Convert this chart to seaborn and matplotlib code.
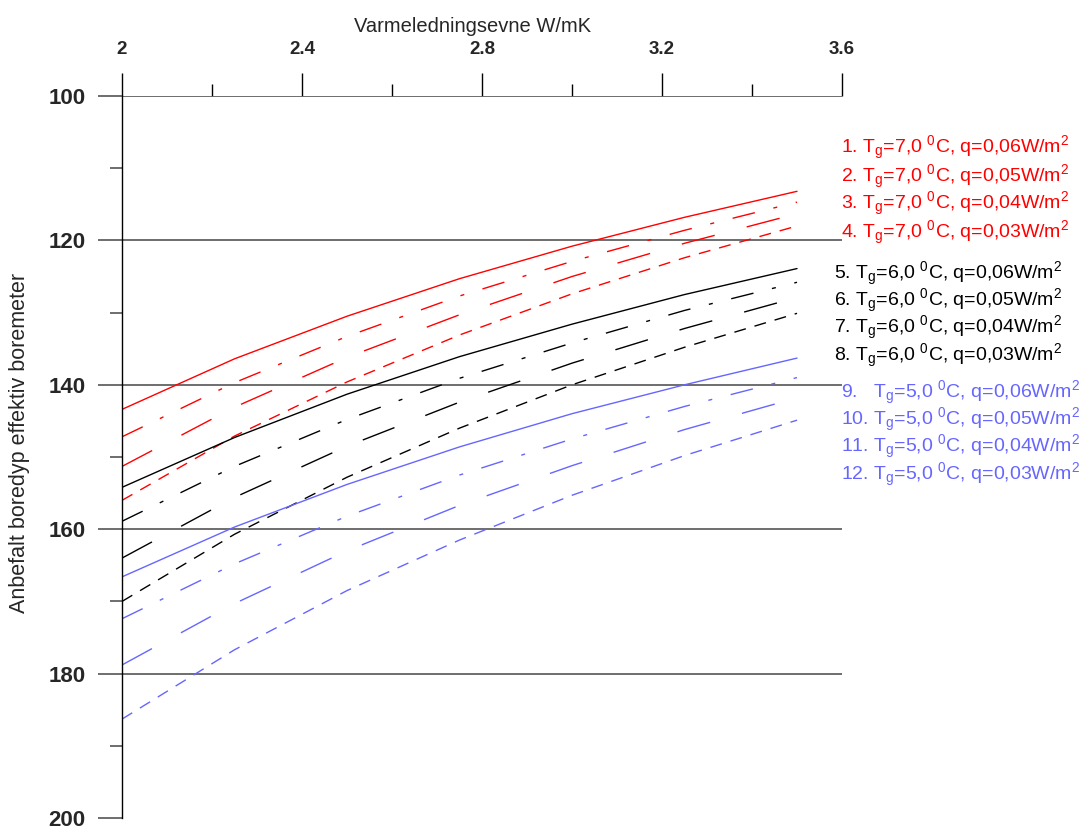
import numpy as np
import pandas as pd
import seaborn as sns
import matplotlib.pyplot as plt
from matplotlib.ticker import FixedLocator, FuncFormatter

# Varmeledningsevne W/mK
conductivity = [2.0, 2.25, 2.5, 2.75, 3.0, 3.25, 3.5]

# Anbefalt boredyp (m)
tg7_q006 = [143.4, 136.4, 130.5, 125.3, 120.8, 116.8, 113.2]
tg7_q005 = [147.2, 139.7, 133.3, 127.7, 122.9, 118.6, 114.7]
tg7_q004 = [151.3, 143.1, 136.2, 130.3, 125.0, 120.4, 116.3]
tg7_q003 = [156.0, 147.1, 139.6, 133.1, 127.4, 122.4, 118.0]
tg6_q006 = [154.2, 147.3, 141.3, 136.1, 131.6, 127.5, 123.9]
tg6_q005 = [158.9, 151.3, 144.8, 139.1, 134.2, 129.7, 125.8]
tg6_q004 = [164.0, 155.6, 148.5, 142.4, 137.0, 132.2, 127.9]
tg6_q003 = [170.0, 160.7, 152.8, 146.0, 140.0, 134.8, 130.1]
tg5_q006 = [166.6, 159.7, 153.8, 148.6, 144.0, 140.0, 136.3]
tg5_q005 = [172.4, 164.8, 158.2, 152.5, 147.5, 143.0, 139.0]
tg5_q004 = [178.8, 170.3, 163.0, 156.7, 151.2, 146.2, 141.8]
tg5_q003 = [186.3, 176.7, 168.5, 161.5, 155.3, 149.8, 144.9]

labels = [
    r"1. T$_\mathrm{g}$=7,0 $^\mathrm{0}$C, q=0,06W/m$^\mathrm{2}$",
    r"2. T$_\mathrm{g}$=7,0 $^\mathrm{0}$C, q=0,05W/m$^\mathrm{2}$",
    r"3. T$_\mathrm{g}$=7,0 $^\mathrm{0}$C, q=0,04W/m$^\mathrm{2}$",
    r"4. T$_\mathrm{g}$=7,0 $^\mathrm{0}$C, q=0,03W/m$^\mathrm{2}$",
    r"5. T$_\mathrm{g}$=6,0 $^\mathrm{0}$C, q=0,06W/m$^\mathrm{2}$",
    r"6. T$_\mathrm{g}$=6,0 $^\mathrm{0}$C, q=0,05W/m$^\mathrm{2}$",
    r"7. T$_\mathrm{g}$=6,0 $^\mathrm{0}$C, q=0,04W/m$^\mathrm{2}$",
    r"8. T$_\mathrm{g}$=6,0 $^\mathrm{0}$C, q=0,03W/m$^\mathrm{2}$",
    r"9.   T$_\mathrm{g}$=5,0 $^\mathrm{0}$C, q=0,06W/m$^\mathrm{2}$",
    r"10. T$_\mathrm{g}$=5,0 $^\mathrm{0}$C, q=0,05W/m$^\mathrm{2}$",
    r"11. T$_\mathrm{g}$=5,0 $^\mathrm{0}$C, q=0,04W/m$^\mathrm{2}$",
    r"12. T$_\mathrm{g}$=5,0 $^\mathrm{0}$C, q=0,03W/m$^\mathrm{2}$",
]

xticks = [2.0, 2.4, 2.8, 3.2, 3.6]
xticks_minor = [2.2, 2.6, 3.0, 3.4]
yticks = [100, 120, 140, 160, 180, 200]
yticks_minor = [110, 130, 150, 170, 190]

series = [tg7_q006, tg7_q005, tg7_q004, tg7_q003,
          tg6_q006, tg6_q005, tg6_q004, tg6_q003,
          tg5_q006, tg5_q005, tg5_q004, tg5_q003]

RED = "#ff0000"
BLACK = "#000000"
BLUE = "#6666ff"
GRID = "#555555"
group_colors = [RED] * 4 + [BLACK] * 4 + [BLUE] * 4
pattern = ["", (16.5, 13.7, 2.9, 13.7), (24.5, 23.8), (8.6, 6.5)]

rows = []
for lab, vals in zip(labels, series):
    for k, d in zip(conductivity, vals):
        rows.append({"curve": lab, "k": k, "depth": d})
df = pd.DataFrame(rows)

sns.set_style("white")
plt.rcParams["font.family"] = ["Liberation Sans", "DejaVu Sans"]
plt.rcParams["mathtext.fontset"] = "custom"
plt.rcParams["mathtext.rm"] = "Liberation Sans"
plt.rcParams["mathtext.it"] = "Liberation Sans:italic"
plt.rcParams["mathtext.bf"] = "Liberation Sans:bold"
plt.rcParams["lines.scale_dashes"] = False

fig = plt.figure(figsize=(10.82, 8.27), dpi=100)
ax = fig.add_axes([0.1128, 0.0109, 0.6654, 0.873])

sns.lineplot(
    data=df,
    x="k",
    y="depth",
    hue="curve",
    style="curve",
    palette=dict(zip(labels, group_colors)),
    dashes=dict(zip(labels, pattern * 3)),
    hue_order=labels,
    style_order=labels,
    linewidth=1.0,
    legend=False,
    ax=ax,
)

ax.set_xlim(2.0, 3.6)
ax.set_ylim(200, 100)

ax.xaxis.set_major_locator(FixedLocator(xticks))
ax.xaxis.set_minor_locator(FixedLocator(xticks_minor))
ax.xaxis.set_major_formatter(FuncFormatter(lambda v, p: f"{v:g}"))
ax.yaxis.set_major_locator(FixedLocator(yticks))
ax.yaxis.set_minor_locator(FixedLocator(yticks_minor))

ax.tick_params(axis="x", which="both", top=True, bottom=False,
               labeltop=True, labelbottom=False, direction="out", color="black", width=1.0)
ax.tick_params(axis="x", which="major", length=16.5, pad=11, labelsize=13.5)
ax.tick_params(axis="x", which="minor", length=8.6)
ax.tick_params(axis="y", which="both", left=True, direction="out", color=GRID, width=1.2)
ax.tick_params(axis="y", which="major", length=17.3, pad=9, labelsize=16)
ax.tick_params(axis="y", which="minor", length=8.6)
plt.setp(ax.get_xticklabels(), fontweight="bold")
plt.setp(ax.get_yticklabels(), fontweight="bold")

ax.yaxis.grid(True, which="major", color=GRID, linewidth=1.2)
ax.xaxis.grid(False)
ax.get_ygridlines()[-1].set_visible(False)

for side in ["top", "right", "bottom"]:
    ax.spines[side].set_visible(False)
ax.spines["left"].set_color("black")
ax.spines["left"].set_linewidth(1.0)

ax.xaxis.set_label_position("top")
ax.set_xlabel("Varmeledningsevne W/mK", fontsize=14.5)
ax.xaxis.set_label_coords(0.4875, 1.0886)
ax.set_ylabel("Anbefalt boredyp effektiv boremeter", fontsize=15.5)
ax.yaxis.set_label_coords(-0.1285, 0.519)

# annotation list at the right side of the plot
label_x = [3.598] * 4 + [3.582] * 4 + [3.597] * 4
label_y = [107.9, 111.9, 115.7, 119.7,
           125.3, 129.1, 132.9, 136.7,
           141.9, 145.6, 149.3, 153.2]
for lab, col, lx, ly in zip(labels, group_colors, label_x, label_y):
    ax.text(lx, ly, lab, color=col, fontsize=14, ha="left", va="baseline", clip_on=False)

fig.savefig("out.png", dpi=100)
